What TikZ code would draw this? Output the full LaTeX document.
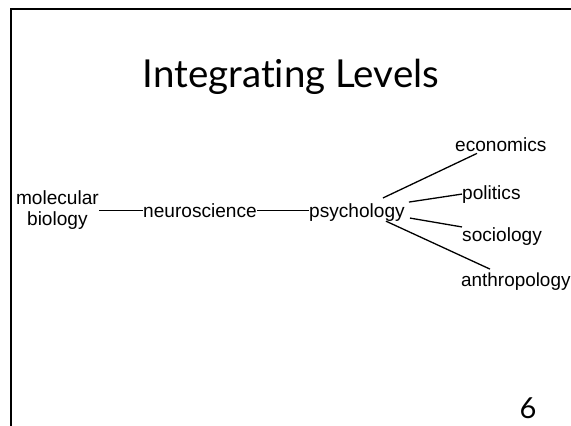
\documentclass[tikz,border=0pt]{standalone}
\usepackage{fontspec}
\setmainfont{Liberation Sans}
\newfontfamily\titlefont[Ligatures=NoCommon]{Lato}
\usepackage{tikz}
\usepackage{xcolor}
\tikzstyle{field} = [inner sep=0pt, font=\fontsize{19.1}{21}\selectfont]
\tikzstyle{tie} = [line width=1.3pt, black]

\begin{document}
\begin{tikzpicture}[x=1pt, y=-1pt]
\useasboundingbox (0,0) rectangle (571,426);

% Frame
\draw [line width=2.5pt] (11,426) -- (11,9) -- (571,9);

% Title and page number
\node (title) [inner sep=0pt, anchor=base] at (291,87) {\titlefont\fontsize{38.5}{40}\selectfont Integrating Levels};
\node (page) [inner sep=0pt, anchor=base] at (528,418) {\titlefont\fontsize{29}{30}\selectfont 6};

% Nodes
\node (mb) [field, align=center, anchor=east] at (99,210) {molecular\\biology}; % left
\node (neuro) [field, anchor=base west] at (143,217) {neuroscience};
\node (psych) [field, anchor=base west] at (309,217) {psychology}; % hub
\node (econ) [field, anchor=base west] at (455,151) {economics};
\node (pol) [field, anchor=base west] at (462,199) {politics};
\node (soc) [field, anchor=base west] at (462,241) {sociology};
\node (anth) [field, anchor=base west, font=\fontsize{18.9}{21}\selectfont] at (461,286) {anthropology};

% Lines
\draw [tie] (mb.east |- neuro.west) -- (neuro.west);
\draw [tie] (neuro.east) -- (neuro.east -| psych.west);
\draw [tie] ([xshift=26,yshift=5]psych.north) -- ([xshift=22,yshift=-2]econ.south west);
\draw [tie] ([xshift=4,yshift=10]psych.east) -- (pol.west);
\draw [tie] ([xshift=5,yshift=-6]psych.east) -- (soc.north west);
\draw [tie] ([xshift=29]psych.south) -- ([xshift=29,yshift=3]anth.north west);

\end{tikzpicture}
\end{document}
